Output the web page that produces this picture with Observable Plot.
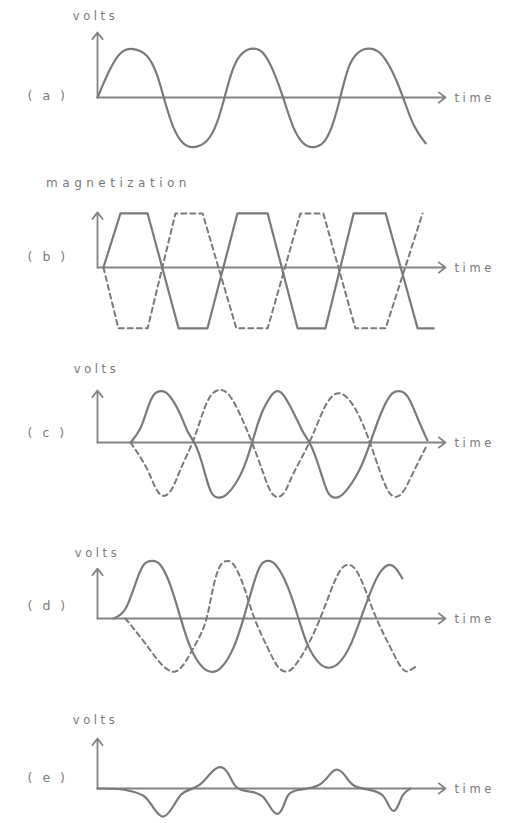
<!DOCTYPE html>
<html>
<head>
<meta charset="utf-8">
<script src="https://cdn.jsdelivr.net/npm/d3@7"></script>
<script src="https://cdn.jsdelivr.net/npm/@observablehq/plot@0.6"></script>
<style>
  html, body { margin: 0; padding: 0; background: #fff; }
  #chart { width: 509px; height: 823px; overflow: hidden; background: #fff; }
  #chart svg { display: block; }
</style>
</head>
<body>
<div id="chart"></div>
<script>
// ---------------- DATA ----------------
const panelLabels = ["(a)", "(b)", "(c)", "(d)", "(e)"];
const yAxisLabels = ["volts", "magnetization", "volts", "volts", "volts"];
const xAxisLabel = "time";
const timeEnd = 100;                           // end of the time axis
const axisTops = [1.25, 1.06, 1.0, 0.96, 0.96]; // top of each vertical axis (volts units)

// (a) sine wave
const aSolidT = [0, 3.7, 6.6, 10.1, 14.4, 17.2, 19.0, 21.8, 24.7, 27.6, 31.6, 34.5, 36.5, 39.1, 41.9, 44.8, 47.7, 50.6, 53.4, 56.3, 59.2, 62.1, 65.5, 67.8, 69.8, 72.1, 75.0, 77.9, 81.3, 84.8, 87.9, 90.8, 94.3];
const aSolidV = [0, 0.58, 0.90, 0.96, 0.85, 0.46, 0, -0.63, -0.92, -0.98, -0.88, -0.50, 0, 0.65, 0.90, 0.96, 0.90, 0.52, 0, -0.63, -0.92, -0.98, -0.88, -0.50, 0, 0.65, 0.90, 0.96, 0.90, 0.52, 0, -0.58, -0.88];

// (b) magnetization trapezoids
const bSolidT = [1.7, 6.6, 14.4, 23.3, 31.6, 40.2, 48.9, 57.5, 65.5, 73.6, 82.8, 92.0, 96.6];
const bSolidV = [0, 1.04, 1.04, -1.17, -1.17, 1.04, 1.04, -1.17, -1.17, 1.04, 1.04, -1.17, -1.17];
const bDashT = [1.7, 6.0, 14.4, 22.4, 30.2, 39.9, 48.9, 58.3, 64.9, 74.1, 82.8, 93.4];
const bDashV = [0, -1.17, -1.17, 1.04, 1.04, -1.17, -1.17, 1.04, 1.04, -1.17, -1.17, 1.04];

// (c)
const cSolidT = [9.5, 12.4, 14.4, 16.1, 18.4, 20.4, 23.9, 25.9, 28.2, 30.5, 32.5, 34.8, 37.4, 41.7, 44.5, 46.8, 50.3, 51.7, 53.4, 57.5, 59.5, 61.2, 64.1, 66.1, 68.4, 70.7, 75.6, 78.4, 81.3, 84.2, 86.5, 89.1, 92.2, 94.8];
const cSolidV = [0, 0.23, 0.67, 0.96, 1.0, 0.96, 0.56, 0.17, 0, -0.48, -1.02, -1.08, -1.02, -0.60, 0, 0.56, 0.96, 1.0, 0.96, 0.42, 0.13, 0, -0.54, -1.02, -1.08, -1.02, -0.54, 0, 0.56, 0.96, 1.0, 0.96, 0.42, 0.04];
const cDashT = [9.5, 14.4, 16.7, 19.0, 21.6, 23.9, 27.6, 31.0, 33.0, 35.3, 37.6, 40.2, 44.5, 47.7, 49.7, 51.7, 54.0, 55.5, 61.2, 64.9, 67.5, 69.3, 71.3, 74.7, 78.4, 81.3, 83.6, 85.6, 87.9, 90.5, 94.3];
const cDashV = [0, -0.48, -0.92, -1.08, -0.92, -0.48, 0, 0.75, 0.96, 1.04, 0.96, 0.67, 0, -0.60, -0.98, -1.08, -0.98, -0.67, 0, 0.67, 0.92, 0.96, 0.92, 0.62, 0, -0.60, -0.98, -1.08, -0.98, -0.60, -0.10];

// (d)
const dSolidT = [4.6, 6.6, 8.6, 11.5, 13.2, 15.8, 18.1, 21.0, 23.9, 26.7, 30.5, 33.0, 35.3, 39.1, 42.0, 44.8, 46.8, 49.1, 51.1, 54.6, 57.8, 60.3, 64.1, 66.4, 69.0, 72.7, 75.6, 79.3, 81.3, 83.6, 85.6, 87.6];
const dSolidV = [0, 0.06, 0.21, 0.79, 1.08, 1.12, 1.08, 0.67, 0, -0.62, -1.0, -1.04, -1.0, -0.62, 0, 0.67, 1.08, 1.12, 1.08, 0.67, 0, -0.56, -0.92, -0.96, -0.92, -0.56, 0, 0.67, 0.92, 1.06, 1.0, 0.77];
const dDashT = [8.0, 13.2, 17.2, 21.0, 23.9, 26.7, 29.6, 31.6, 33.3, 35.3, 37.4, 39.1, 42.0, 44.8, 48.9, 51.7, 54.0, 56.0, 60.3, 64.1, 67.0, 69.8, 72.1, 74.1, 76.4, 79.9, 84.2, 87.9, 89.9, 92.0];
const dDashV = [0, -0.42, -0.81, -1.06, -1.0, -0.67, -0.33, 0, 0.67, 1.08, 1.12, 1.08, 0.67, 0, -0.56, -0.96, -1.04, -1.0, -0.56, 0, 0.54, 0.98, 1.06, 0.98, 0.67, 0, -0.56, -1.06, -1.0, -0.90];

// (e)
const eSolidT = [0, 6.6, 10.3, 13.8, 16.1, 18.7, 21.6, 23.9, 26.7, 29.6, 31.9, 34.8, 37.4, 39.1, 41.1, 44.8, 47.7, 49.7, 51.7, 53.4, 54.6, 57.5, 64.1, 67.0, 69.0, 71.3, 73.3, 78.4, 82.2, 83.6, 85.1, 86.5, 87.6, 89.9];
const eSolidV = [0, 0, -0.06, -0.13, -0.38, -0.62, -0.38, -0.08, -0.02, 0.06, 0.25, 0.46, 0.35, 0.06, -0.04, -0.06, -0.13, -0.38, -0.54, -0.38, -0.08, -0.02, 0.02, 0.31, 0.40, 0.25, 0.02, -0.02, -0.10, -0.33, -0.48, -0.33, -0.10, 0];

// ---------------- BUILD ----------------
const pts = (ts, vs) => ts.map((t, i) => ({t, v: vs[i]}));
const series = [
  {solid: pts(aSolidT, aSolidV), dash: null, curve: "basis"},
  {solid: pts(bSolidT, bSolidV), dash: pts(bDashT, bDashV), curve: "linear"},
  {solid: pts(cSolidT, cSolidV), dash: pts(cDashT, cDashV), curve: "basis"},
  {solid: pts(dSolidT, dSolidV), dash: pts(dDashT, dDashV), curve: "basis"},
  {solid: pts(eSolidT, eSolidV), dash: null, curve: "basis"}
];

// layout (pixels): svg height, baseline, label offsets
const layout = [
  {h: 170, base: 97, ylx: -2, yly: -81, ply: -2},
  {h: 175, base: 97, ylx: 21, yly: -84, ply: -11},
  {h: 175, base: 97, ylx: -1, yly: -73, ply: -10},
  {h: 175, base: 98, ylx: 0,  yly: -65, ply: -13},
  {h: 128, base: 93, ylx: -2, yly: -68, ply: -11}
];
const PX_PER_VOLT = 52;
const lineColor = "#7a7a7a";
const axisColor = "#848484";
const textColor = "#7a7a7a";

const container = document.getElementById("chart");

series.forEach((s, i) => {
  const L = layout[i];
  const marks = [
    Plot.arrow([{x1: 0, y1: 0, x2: 0, y2: axisTops[i]}], {
      x1: "x1", y1: "y1", x2: "x2", y2: "y2",
      stroke: axisColor, strokeWidth: 1.8, headLength: 7, headAngle: 75
    }),
    Plot.arrow([{x1: 0, y1: 0, x2: timeEnd, y2: 0}], {
      x1: "x1", y1: "y1", x2: "x2", y2: "y2",
      stroke: axisColor, strokeWidth: 1.8, headLength: 7, headAngle: 75
    })
  ];
  if (s.dash) {
    marks.push(Plot.line(s.dash, {
      x: "t", y: "v", curve: s.curve, stroke: lineColor, strokeWidth: 2,
      strokeDasharray: "5,4", strokeLinecap: "round"
    }));
  }
  marks.push(Plot.line(s.solid, {
    x: "t", y: "v", curve: s.curve, stroke: lineColor, strokeWidth: 2.2, strokeLinejoin: "round"
  }));
  marks.push(Plot.text([yAxisLabels[i]], {
    x: () => 0, y: () => 0, text: d => d, dx: L.ylx, dy: L.yly,
    textAnchor: "middle", fill: textColor, fontSize: yAxisLabels[i].length > 6 ? 12 : 11.5
  }));
  marks.push(Plot.text([panelLabels[i]], {
    x: () => 0, y: () => 0, text: d => d, dx: -70, dy: L.ply,
    textAnchor: "start", fill: textColor, fontSize: 12.5
  }));
  marks.push(Plot.text([xAxisLabel], {
    x: () => timeEnd, y: () => 0, text: d => d, dx: 9, dy: 1,
    textAnchor: "start", fill: textColor, fontSize: 11.5
  }));

  const svg = Plot.plot({
    width: 509,
    height: L.h,
    margin: 0,
    x: {domain: [0, timeEnd], range: [97, 445], axis: null},
    y: {domain: [-1, 1], range: [L.base + PX_PER_VOLT, L.base - PX_PER_VOLT], axis: null},
    style: {background: "#fff", overflow: "visible", fontFamily: "DejaVu Sans, sans-serif"},
    marks
  });
  svg.querySelectorAll("text").forEach(el => {
    const s = el.textContent;
    const sp = s.startsWith("(") ? "10px" : (s.length > 6 ? "4.5px" : "3.6px");
    el.setAttribute("letter-spacing", sp);
  });
  container.appendChild(svg);
});
</script>
</body>
</html>
